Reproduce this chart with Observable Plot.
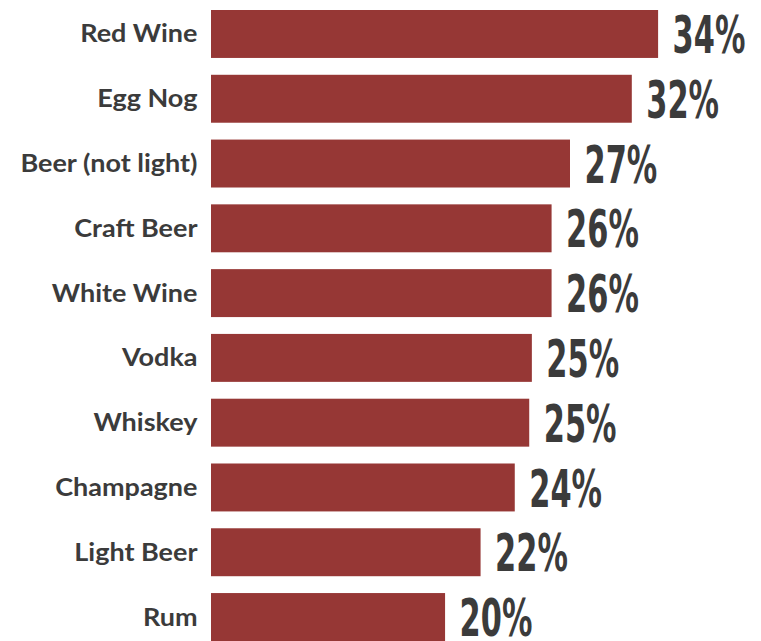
<!DOCTYPE html>
<html>
<head>
<meta charset="utf-8">
<script src="https://cdn.jsdelivr.net/npm/d3@7"></script>
<script src="https://cdn.jsdelivr.net/npm/@observablehq/plot@0.6"></script>
<style>
  html, body { margin: 0; padding: 0; background: #fff; overflow: hidden; }
  #chart svg { display: block; }
</style>
</head>
<body>
<div id="chart"></div>
<script>
const drinks = ["Red Wine", "Egg Nog", "Beer (not light)", "Craft Beer", "White Wine", "Vodka", "Whiskey", "Champagne", "Light Beer", "Rum"];
const shares = [34.0, 32.0, 27.3, 25.9, 25.9, 24.4, 24.2, 23.1, 20.5, 17.8];
const labels = ["34%", "32%", "27%", "26%", "26%", "25%", "25%", "24%", "22%", "20%"];

const data = drinks.map((d, i) => ({drink: d, share: shares[i], label: labels[i]}));

const chart = Plot.plot({
  width: 761,
  height: 641,
  marginTop: 10,
  marginBottom: 0,
  marginLeft: 211,
  marginRight: 24,
  x: {domain: [0, 40], axis: null},
  y: {domain: drinks, paddingInner: 0.26, paddingOuter: 0, round: false, label: null},
  style: {background: "#fff"},
  marks: [
    Plot.barX(data, {x: "share", y: "drink", fill: "#963735"}),
    Plot.axisY({
      tickSize: 0,
      tickPadding: 14,
      fontSize: 25,
      fontWeight: "bold",
      fontFamily: "Lato",
      color: "#3b3b3b",
      label: null
    }),
    Plot.text(data, {
      x: "share",
      y: "drink",
      text: "label",
      textAnchor: "start",
      dx: 14,
      dy: 2,
      fontSize: 52,
      fontWeight: "bold",
      fontFamily: "'DejaVu Sans Condensed', sans-serif",
      fill: "#3b3b3b"
    })
  ]
});
document.getElementById("chart").appendChild(chart);

// horizontal squeeze/stretch of glyphs about each text's anchor
function stretch(sel, sx) {
  d3.select(chart).selectAll(sel).each(function() {
    const t = this.getAttribute("transform") || "";
    this.setAttribute("transform", t + ` scale(${sx},1)`);
  });
}
stretch('g[aria-label="text"] text', 0.65);
stretch('g[aria-label="y-axis tick label"] text', 1.08);
</script>
</body>
</html>
